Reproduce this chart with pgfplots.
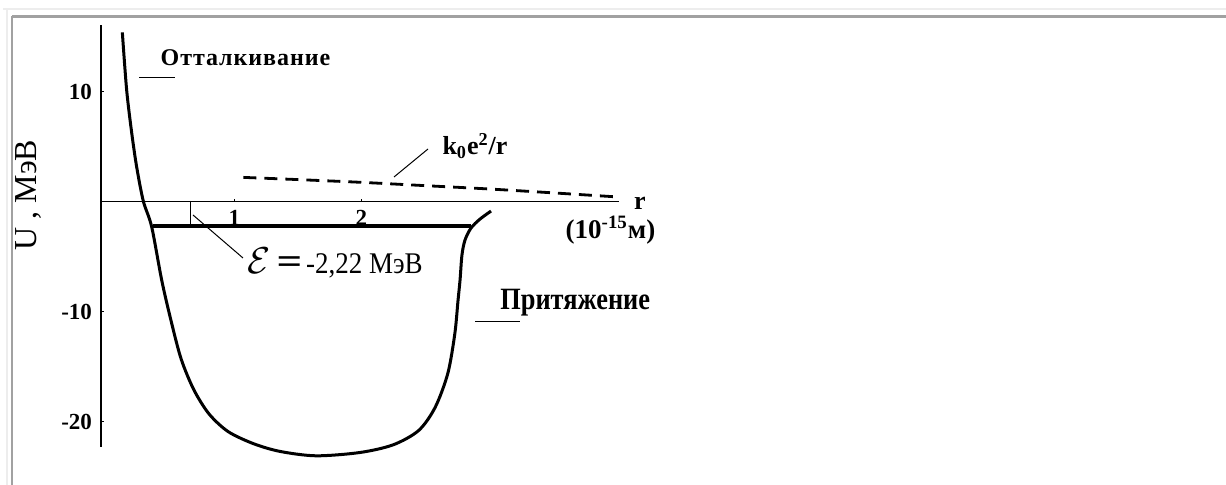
\documentclass[border=0pt]{standalone}
\usepackage{pgfplots}
\pgfplotsset{compat=1.18}
\usepackage{fontspec}
\setmainfont{Liberation Serif}

% Potential of the neutron-proton interaction (deuteron)
\pgfplotstableread{
r      U
0.117  15.38
0.151  10.14
0.191  6.23
0.230  3.14
0.282  0.05
0.348  -2.29
0.427  -7.14
0.500  -10.8
0.580  -14.3
0.680  -17.1
0.800  -19.3
0.950  -20.9
1.150  -22.0
1.358  -22.7
1.642  -23.1
1.988  -22.8
2.250  -22.1
2.450  -20.8
2.580  -18.7
2.680  -15.6
2.735  -12.0
2.760  -9.0
2.776  -7.14
2.791  -4.86
2.815  -3.5
2.862  -2.41
2.933  -1.59
3.020  -0.86
}\nuclear

\pgfplotstableread{
r      U
1.07   2.20
1.50   2.00
2.00   1.75
2.50   1.45
3.00   1.15
3.50   0.80
4.02   0.42
}\coulomb

\begin{document}
\begin{tikzpicture}[x=0.5pt,y=-0.5pt]
\path[use as bounding box] (0,0) rectangle (1226,485);
% page frame
\draw[color=black!7, line width=1pt] (3,9.5) -- (1226,9.5);
\draw[color=black!7, line width=1pt] (6.5,9.5) -- (6.5,485);
\draw[color=black!37, line width=1.2pt] (12,16.5) -- (1226,16.5);
\draw[color=black!37, line width=1.2pt] (12,16.5) -- (12,485);
\coordinate (O) at (101,447);
\begin{axis}[at={(O)}, anchor=south west, scale only axis,
  width=259.15pt, height=211pt,
  xmin=-0.051, xmax=4.03, ymin=-22.3, ymax=16.05,
  axis x line=middle, axis y line=left,
  axis line style={-, line width=0.6pt},
  xtick={1,2}, ytick={-20,-10,10},
  xticklabels={\textbf{1},\textbf{2}},
  yticklabels={\textbf{-20},\textbf{-10},\textbf{10}},
  tick align=inside, major tick length=1.5pt, tick style={line width=0.5pt, black},
  ticklabel style={font=\fontsize{11.5}{13}\selectfont},
  yticklabel style={xshift=-1pt},
  xticklabel style={yshift=-1pt},
  clip=false]
\addplot[line width=1.5pt, smooth, tension=0.5] table[x=r, y=U] {\nuclear};
\addplot[line width=1.7pt] coordinates {(0.356,-2.22) (2.862,-2.22)};
\addplot[line width=1.4pt, dash pattern=on 6.5pt off 4pt, smooth] table[x=r, y=U] {\coulomb};
\end{axis}
% leader lines
\draw[line width=0.5pt] (139,78) -- (175,78);
\draw[line width=0.5pt] (394,177) -- (428,149);
\draw[line width=0.5pt] (190.7,201) -- (190.7,228);
\draw[line width=0.5pt] (193,215) -- (243,258);
\draw[line width=0.5pt] (475,322) -- (520,322);
% labels
\node[rotate=90] at (28,195) {\fontsize{16}{18}\selectfont U , МэВ};
\node at (245.5,58) {\fontsize{12}{14}\selectfont\addfontfeatures{LetterSpace=4}\bfseries Отталкивание};
\node at (475,146) {\fontsize{13}{15}\selectfont\bfseries k\textsubscript{0}e\textsuperscript{2}/r};
\node at (640,203) {\fontsize{13}{15}\selectfont\bfseries r};
\node at (610.5,230) {\fontsize{13.5}{15}\selectfont\bfseries (10\textsuperscript{-15}м)};
\node[anchor=west, inner sep=0pt] at (247,263) {\fontsize{15}{17}\selectfont\scalebox{1.3}{$\mathcal{E}$}\hspace{3pt}\scalebox{1.5}[1.2]{\textbf{=}}\hspace{2pt}\scalebox{0.9}[1]{-2,22 МэВ}};
\node[anchor=west, inner sep=0pt] at (500,303) {\fontsize{15.5}{17}\selectfont\bfseries\scalebox{0.85}[1]{Притяжение}};
\end{tikzpicture}
\end{document}
